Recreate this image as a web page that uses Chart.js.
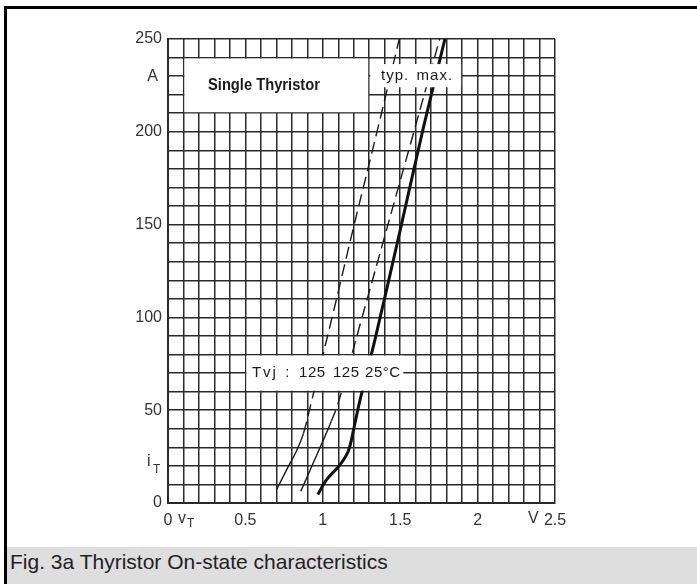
<!DOCTYPE html>
<html>
<head>
<meta charset="utf-8">
<script src="https://cdn.jsdelivr.net/npm/chart.js@4/dist/chart.umd.min.js"></script>
<style>
    html, body { margin: 0; padding: 0; background: #fff; }
    #page { position: relative; width: 697px; height: 584px; overflow: hidden; }
    #chartBox { position: absolute; left: 0; top: 0; width: 697px; height: 547px; }
    .barTop { position: absolute; left: 4px; top: 6px; width: 693px; height: 3px; background: #000; }
    .barLeft { position: absolute; left: 4px; top: 6px; width: 3px; height: 578px; background: #000; }
    #caption {
        position: absolute; left: 7px; top: 547px; width: 690px; height: 37px;
        background: #dedede; color: #222; box-sizing: border-box; padding-left: 3px;
        font: 21px "Liberation Sans", Arial, sans-serif; line-height: 29px; white-space: nowrap;
    }
</style>
</head>
<body>
<div id="page">
    <div id="chartBox"><canvas id="chart" width="697" height="547"></canvas></div>
    <div class="barTop"></div>
    <div class="barLeft"></div>
    <div id="caption">Fig. 3a Thyristor On-state characteristics</div>
</div>

<script>
// on-state voltage (V) / current (A)
const typ125V = [0.70, 0.77, 0.83, 0.875, 0.925, 1.06, 1.20, 1.35, 1.494];
const typ125A = [7, 18.5, 28, 37.5, 54, 100, 149, 200, 250];

const max125V = [0.858, 0.929, 1.004, 1.055, 1.10, 1.237, 1.595, 1.755];
const max125A = [6.4, 19.8, 34, 44, 54, 95, 202, 250];

const max25V = [0.968, 1.026, 1.112, 1.165, 1.20, 1.241, 1.337, 1.50, 1.649, 1.789];
const max25A = [4.6, 12.7, 20.7, 28, 40, 55.7, 88, 147, 202, 250];

const xTickLabels = [0, 0.5, 1, 1.5, 2, 2.5];
const yTickLabels = [0, 50, 100, 150, 200, 250];

const title = "Single Thyristor";
const curveNames = ["typ.", "max."];
const tvjParts = ["Tvj", ":", "125", "125", "25°C"];

function points(xs, ys) {
    return xs.map((x, i) => ({ x: x, y: ys[i] }));
}

function dashAbove(limit) {
    return ctx => ctx.p0.parsed.y >= limit ? [12, 6] : undefined;
}

const FONT = '"Liberation Sans", Arial, sans-serif';

const annotations = {
    id: "annotations",
    afterDatasetsDraw(chart) {
        const ctx = chart.ctx;
        const px = v => chart.scales.x.getPixelForValue(v);
        const py = v => chart.scales.y.getPixelForValue(v);

        ctx.save();
        ctx.fillStyle = "#fff";
        // title box, typ/max box, Tvj box
        ctx.fillRect(px(0.1) + 1, py(240) + 1, px(1.3) - px(0.1) - 2, py(210) - py(240) - 2);
        ctx.fillRect(px(1.3) + 1, py(236.5), px(1.9) - px(1.3) - 2, py(224) - py(236.5));
        ctx.fillRect(px(0.5) + 1, py(80) + 1, px(1.52) - px(0.5) - 1, py(60) - py(80) - 2);

        ctx.fillStyle = "#1a1a1a";
        ctx.textBaseline = "middle";

        // title, squeezed like the scan
        ctx.font = "bold 17px " + FONT;
        const w = ctx.measureText(title).width;
        ctx.save();
        ctx.translate(px(0.62), py(225));
        ctx.scale(Math.min(1, 112 / w), 1);
        ctx.textAlign = "center";
        ctx.fillText(title, 0, 0);
        ctx.restore();

        ctx.font = "15px " + FONT;
        ctx.textAlign = "center";
        ctx.letterSpacing = "1px";
        ctx.fillText(curveNames[0], px(1.467), py(230));
        ctx.fillText(curveNames[1], px(1.724), py(230));

        const tvjX = [0.542, 0.757, 0.847, 1.066, 1.273];
        ctx.textAlign = "left";
        tvjParts.forEach((t, i) => {
            ctx.letterSpacing = i === 0 ? "2px" : "0.5px";
            ctx.fillText(t, px(tvjX[i]), py(70));
        });
        ctx.restore();
    },
    afterDraw(chart) {
        const ctx = chart.ctx;
        const px = v => chart.scales.x.getPixelForValue(v);
        const py = v => chart.scales.y.getPixelForValue(v);

        ctx.save();
        ctx.fillStyle = "#333";
        ctx.textBaseline = "middle";
        ctx.font = "16px " + FONT;

        ctx.textAlign = "right";
        ctx.fillText("A", px(0) - 10, py(230));

        ctx.textAlign = "left";
        ctx.fillText("i", px(0) - 21, py(20) - 4);
        ctx.fillText("v", px(0) + 10, py(0) + 16);
        ctx.fillText("V", px(2.5) - 27, py(0) + 16);

        ctx.font = "12px " + FONT;
        ctx.fillText("T", px(0) - 15, py(20) + 4);
        ctx.fillText("T", px(0) + 19, py(0) + 21);
        ctx.restore();
    }
};

const gridStyle = {
    color: "#2a2a2a",
    lineWidth: 1.5,
    drawTicks: false
};

new Chart(document.getElementById("chart"), {
    type: "line",
    data: {
        datasets: [
            {
                label: "typ. 125°C",
                data: points(typ125V, typ125A),
                borderColor: "#1a1a1a",
                borderWidth: 1.4,
                segment: { borderDash: dashAbove(37) }
            },
            {
                label: "max. 125°C",
                data: points(max125V, max125A),
                borderColor: "#1a1a1a",
                borderWidth: 1.4,
                segment: { borderDash: dashAbove(44) }
            },
            {
                label: "max. 25°C",
                data: points(max25V, max25A),
                borderColor: "#111",
                borderWidth: 3
            }
        ]
    },
    options: {
        responsive: false,
        animation: false,
        events: [],
        parsing: false,
        layout: { padding: { top: 39, right: 142, left: 0, bottom: 0 } },
        elements: {
            point: { radius: 0 },
            line: { tension: 0.35, fill: false }
        },
        plugins: {
            legend: { display: false },
            tooltip: { enabled: false }
        },
        scales: {
            x: {
                type: "linear",
                min: 0,
                max: 2.5,
                grid: gridStyle,
                border: { color: "#2a2a2a", width: 2 },
                ticks: {
                    stepSize: 0.1,
                    autoSkip: false,
                    maxRotation: 0,
                    padding: 8,
                    color: "#333",
                    font: { family: FONT, size: 16 },
                    callback: v => {
                        const t = Math.round(v * 10) / 10;
                        return xTickLabels.includes(t) ? String(t) : "";
                    }
                },
                afterFit: s => { s.height = 44; }
            },
            y: {
                type: "linear",
                min: 0,
                max: 250,
                grid: gridStyle,
                border: { color: "#2a2a2a", width: 2 },
                ticks: {
                    stepSize: 10,
                    autoSkip: false,
                    padding: 6,
                    color: "#333",
                    font: { family: FONT, size: 16 },
                    callback: v => yTickLabels.includes(v) ? String(v) : ""
                },
                afterFit: s => { s.width = 168; }
            }
        }
    },
    plugins: [annotations]
});
</script>
</body>
</html>
